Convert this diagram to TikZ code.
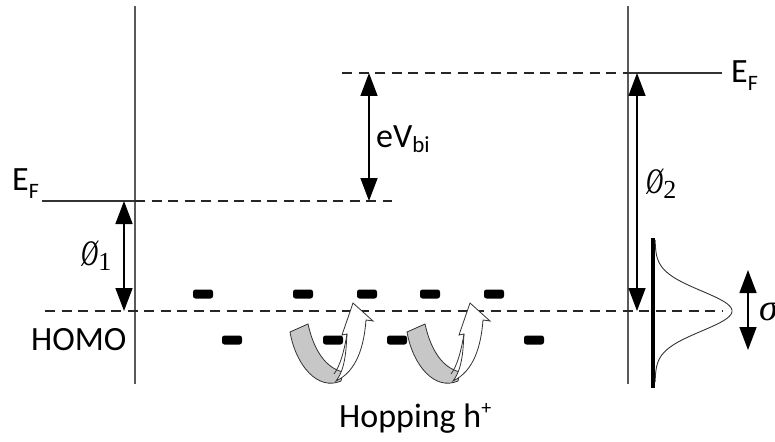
\documentclass[tikz,border=0pt]{standalone}
\usepackage{fontspec}
\newfontfamily\carlfont{Carlito}
\newfontfamily\serfont{Liberation Serif}
\usetikzlibrary{arrows.meta}
\tikzset{
  vline/.style={draw=black!65, line width=1.5pt},
  efline/.style={draw=black!80, line width=1.5pt},
  dline/.style={draw=black!85, line width=1.8pt, dash pattern=on 10pt off 6.5pt},
  dbl/.style={line width=1.5pt, {Triangle[width=17pt,length=23pt]}-{Triangle[width=17pt,length=23pt]}},
  level/.style={fill=black, rounded corners=2.5pt, minimum width=20pt, minimum height=9pt, inner sep=0pt},
  lbl/.style={font=\carlfont\fontsize{34}{36}\selectfont, inner sep=0pt},
  sym/.style={font=\serfont\fontsize{36}{38}\selectfont, inner sep=0pt},
  band/.style={fill=black!22, draw=black!80, line width=0.8pt},
  harrow/.style={fill=white, draw=black!80, line width=0.8pt}
}
\newcommand{\slO}{\scalebox{0.66}[1]{\itshape Ø}}
\begin{document}
\begin{tikzpicture}[x=1pt,y=-1pt]
\useasboundingbox (0,0) rectangle (775,441);
% coordinates
\coordinate (L1top) at (135,6);   \coordinate (L1bot) at (135,384);
\coordinate (R1top) at (628,6);   \coordinate (R1bot) at (628,384);
\coordinate (efL0) at (42,201);   \coordinate (efL1) at (135,201); \coordinate (efL2) at (392,201);
\coordinate (efR0) at (342,73);   \coordinate (efR1) at (628,73);  \coordinate (efR2) at (722,73);
\coordinate (homo0) at (45,311);  \coordinate (homo1) at (723,311);
\coordinate (p1a) at (124,201);   \coordinate (p1b) at (124,311);
\coordinate (eva) at (369,73);    \coordinate (evb) at (369,201);
\coordinate (p2a) at (637,73);    \coordinate (p2b) at (637,311);
\coordinate (sa) at (748,270);    \coordinate (sb) at (748,350);
\coordinate (gt) at (653,238);    \coordinate (gb) at (653,388);
% vertical interfaces
\draw[vline] (L1top) -- (L1bot);
\draw[vline] (R1top) -- (R1bot);
% Fermi levels
\draw[efline] (efL0) -- (efL1);
\draw[dline] (efL1) -- (efL2);
\draw[dline] (efR0) -- (efR1);
\draw[efline] (efR1) -- (efR2);
% HOMO
\draw[dline] (homo0) -- (homo1);
% arrows
\draw[dbl] (p1a) -- (p1b);
\draw[dbl] (eva) -- (evb);
\draw[dbl] (p2a) -- (p2b);
\draw[dbl] (sa) -- (sb);
% gaussian DOS
\draw[line width=4pt] (gt) -- (gb);
\draw[black!80, line width=0.9pt] plot[domain=240:382, samples=90] ({655+77*exp(-((\x-311)^2)/800)}, \x);
% localized states
\foreach \n/\px/\py in {a/203/294, b/303/294, c/367/294, d/430/294, e/494/294,
                        f/232/340, g/333/340, h/397/340, i/534/340}
  \node[level] (s\n) at (\px,\py) {};
% hopping arrows
\foreach \sh in {0,117}{
\begin{scope}[xshift=\sh pt]
\path[band] (290,332) .. controls (296,366) and (318,391) .. (341,381) -- (343,372)
   .. controls (326,368) and (314,351) .. (308,324) -- cycle;
\path[harrow] (336,381) .. controls (346,368) and (346,348) .. (347,334) -- (342,335)
   -- (353,303) -- (373,321) -- (366,320) .. controls (364,346) and (357,371) .. (336,381) -- cycle;
\draw[black!80, line width=0.8pt] (347,334) .. controls (344,352) and (340,366) .. (334,374);
\end{scope}}
% labels
\node[lbl, anchor=base west] (EFL) at (12,190) {E\raisebox{-8pt}{\fontsize{22}{22}\selectfont F}};
\node[lbl, anchor=base west] (EFR) at (731,83) {E\raisebox{-8pt}{\fontsize{22}{22}\selectfont F}};
\node[lbl, anchor=base west] (HOMO) at (31,350) {HOMO};
\node[lbl, anchor=base west] (eV) at (376,147) {eV\raisebox{-5pt}{\fontsize{23}{23}\selectfont bi}};
\node[lbl, anchor=base west] (hop) at (339,427) {Hopping h\raisebox{13pt}{\fontsize{20}{20}\selectfont +}};
\node[sym, anchor=base west] (phi1) at (81,265) {\slO\raisebox{-5pt}{\fontsize{26}{26}\selectfont 1}};
\node[sym, anchor=base west] (phi2) at (646,193) {\slO\raisebox{-5pt}{\fontsize{26}{26}\selectfont 2}};
\node[sym, anchor=base west, font=\serfont\itshape\fontsize{38}{40}\selectfont] (sig) at (759,320) {σ};
\end{tikzpicture}
\end{document}
